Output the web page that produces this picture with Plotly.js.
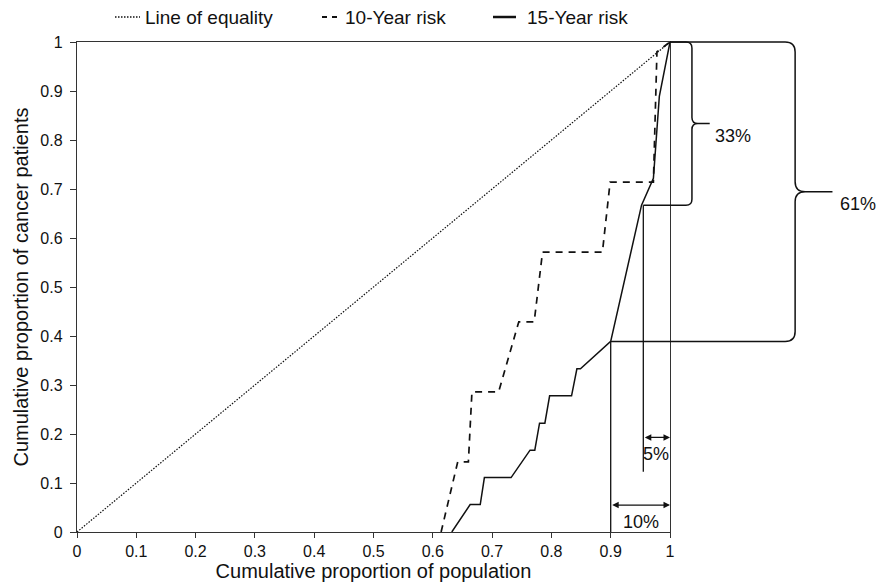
<!DOCTYPE html>
<html>
<head>
<meta charset="utf-8">
<script src="https://cdn.plot.ly/plotly-3.0.1.min.js"></script>
<style>html,body{margin:0;padding:0;background:#fff;}#chart{width:877px;height:588px;}</style>
</head>
<body>
<div id="chart"></div>
<script>
// ---- data ----
var equalityX = [0, 1];
var equalityY = [0, 1];

var risk10X = [0.614, 0.642, 0.660, 0.666, 0.711, 0.745, 0.771, 0.785, 0.886, 0.899, 0.972, 0.978, 1.0];
var risk10Y = [0, 0.143, 0.143, 0.286, 0.286, 0.429, 0.429, 0.571, 0.571, 0.714, 0.714, 0.980, 1.0];

var risk15X = [0.632, 0.663, 0.680, 0.687, 0.732, 0.764, 0.772, 0.780, 0.789, 0.797, 0.834, 0.843, 0.849, 0.900, 0.952, 0.972, 0.982, 1.0];
var risk15Y = [0, 0.056, 0.056, 0.111, 0.111, 0.167, 0.167, 0.222, 0.222, 0.278, 0.278, 0.333, 0.333, 0.389, 0.667, 0.722, 0.889, 1.0];

var seriesNames = ['Line of equality', '10-Year risk', '15-Year risk'];
var tickVals = [0, 0.1, 0.2, 0.3, 0.4, 0.5, 0.6, 0.7, 0.8, 0.9, 1];
var tickText = ['0', '0.1', '0.2', '0.3', '0.4', '0.5', '0.6', '0.7', '0.8', '0.9', '1'];

// highlighted quantities
var pop10Start = 0.9, pop5Start = 0.955, popEnd = 1.0;
var share61Low = 0.389, share33Low = 0.667, shareTop = 1.0;
var labels = {p10: '10%', p5: '5%', s33: '33%', s61: '61%'};

var FONT = 'Liberation Sans, Arial, Helvetica, sans-serif';
var INK = '#111';

var traces = [
  {x: equalityX, y: equalityY, mode: 'lines', name: seriesNames[0], showlegend: false,
   line: {color: INK, width: 1.2, dash: '1.5px,1.5px'}},
  {x: risk10X, y: risk10Y, mode: 'lines', name: seriesNames[1], showlegend: false,
   line: {color: INK, width: 1.7, dash: '7px,6px'}},
  {x: risk15X, y: risk15Y, mode: 'lines', name: seriesNames[2], showlegend: false,
   line: {color: INK, width: 1.5}}
];

// curly brace path in paper coords (x/y domains = [0,1] = data ranges)
function brace(xTopStart, yTop, xBotStart, yBot, xb, xTip, r) {
  var rx = r / 593, ry = r / 490;
  var ym = (yTop + yBot) / 2;
  var p = '';
  p += 'M' + xTopStart + ',' + yTop + ' L' + (xb - rx) + ',' + yTop;
  p += ' Q' + xb + ',' + yTop + ' ' + xb + ',' + (yTop - ry);
  p += ' L' + xb + ',' + (ym + ry);
  p += ' Q' + xb + ',' + ym + ' ' + (xb + rx) + ',' + ym;
  p += ' L' + xTip + ',' + ym;
  p += ' M' + (xb + rx) + ',' + ym;
  p += ' Q' + xb + ',' + ym + ' ' + xb + ',' + (ym - ry);
  p += ' L' + xb + ',' + (yBot + ry);
  p += ' Q' + xb + ',' + yBot + ' ' + (xb - rx) + ',' + yBot;
  p += ' L' + xBotStart + ',' + yBot;
  return p;
}

var shapes = [
  // vertical markers
  {type: 'line', xref: 'x', yref: 'y', x0: pop10Start, x1: pop10Start, y0: 0, y1: share61Low,
   line: {color: INK, width: 1.3}},
  {type: 'line', xref: 'x', yref: 'y', x0: pop5Start, x1: pop5Start, y0: 0.123, y1: share33Low,
   line: {color: INK, width: 1.3}},
  // braces
  {type: 'path', xref: 'paper', yref: 'paper', path: brace(popEnd, shareTop, pop5Start, share33Low, 1.037, 1.067, 6),
   line: {color: INK, width: 1.5}},
  {type: 'path', xref: 'paper', yref: 'paper', path: brace(popEnd, shareTop, pop10Start, share61Low, 1.211, 1.274, 10),
   line: {color: INK, width: 1.5}},
  // manual legend samples
  {type: 'line', xref: 'paper', yref: 'paper', x0: (115 - 77) / 593, x1: (140 - 77) / 593, y0: 1.051, y1: 1.051,
   line: {color: INK, width: 1.3, dash: '1.5px,1.5px'}},
  {type: 'line', xref: 'paper', yref: 'paper', x0: (322 - 77) / 593, x1: (337 - 77) / 593, y0: 1.051, y1: 1.051,
   line: {color: INK, width: 2, dash: '5px,5px'}},
  {type: 'line', xref: 'paper', yref: 'paper', x0: (493 - 77) / 593, x1: (516 - 77) / 593, y0: 1.051, y1: 1.051,
   line: {color: INK, width: 2.5}}
];

var legFont = {family: FONT, size: 19, color: INK};
var annFont = {family: FONT, size: 18, color: INK};
var annotations = [
  // legend texts
  {xref: 'paper', yref: 'paper', x: (143 - 77) / 593, y: 1.051, xanchor: 'left', yanchor: 'middle',
   text: seriesNames[0], showarrow: false, font: legFont},
  {xref: 'paper', yref: 'paper', x: (343 - 77) / 593, y: 1.051, xanchor: 'left', yanchor: 'middle',
   text: seriesNames[1], showarrow: false, font: legFont},
  {xref: 'paper', yref: 'paper', x: (525 - 77) / 593, y: 1.051, xanchor: 'left', yanchor: 'middle',
   text: seriesNames[2], showarrow: false, font: legFont},
  // double arrows
  {xref: 'x', yref: 'y', axref: 'x', ayref: 'y', x: popEnd, y: 0.055, ax: pop10Start, ay: 0.055,
   text: '', showarrow: true, arrowhead: 2, startarrowhead: 2, arrowside: 'end+start',
   arrowsize: 1, startarrowsize: 1, arrowwidth: 1.3, arrowcolor: INK, standoff: 0, startstandoff: 0},
  {xref: 'x', yref: 'y', axref: 'x', ayref: 'y', x: popEnd, y: 0.193, ax: pop5Start, ay: 0.193,
   text: '', showarrow: true, arrowhead: 2, startarrowhead: 2, arrowside: 'end+start',
   arrowsize: 1, startarrowsize: 1, arrowwidth: 1.3, arrowcolor: INK, standoff: 0, startstandoff: 0},
  {xref: 'x', yref: 'y', x: 0.951, y: 0.021, text: labels.p10, showarrow: false, font: annFont},
  {xref: 'x', yref: 'y', x: 0.977, y: 0.159, text: labels.p5, showarrow: false, font: annFont},
  {xref: 'paper', yref: 'paper', x: 1.073, y: (shareTop + share33Low) / 2, xanchor: 'left',
   text: labels.s33, showarrow: false, font: annFont},
  {xref: 'paper', yref: 'paper', x: 1.284, y: (shareTop + share61Low) / 2, xanchor: 'left',
   text: labels.s61, showarrow: false, font: annFont}
];

var axisCommon = {
  range: [0, 1], tickvals: tickVals, ticktext: tickText, ticks: 'outside', ticklen: 5,
  tickcolor: '#333', tickwidth: 1, showline: true, linecolor: '#333', linewidth: 1.2, mirror: true,
  showgrid: false, zeroline: false, fixedrange: true,
  tickfont: {family: FONT, size: 16, color: INK}
};

var layout = {
  width: 877, height: 588,
  margin: {l: 77, r: 207, t: 42, b: 56, pad: 0},
  paper_bgcolor: '#fff', plot_bgcolor: '#fff',
  showlegend: false,
  xaxis: Object.assign({}, axisCommon, {
    title: {text: 'Cumulative proportion of population', font: {family: FONT, size: 20, color: INK}, standoff: 3}
  }),
  yaxis: Object.assign({}, axisCommon, {
    ticklen: 6, ticklabelstandoff: 4,
    title: {text: 'Cumulative proportion of cancer patients', font: {family: FONT, size: 20, color: INK}, standoff: 6}
  }),
  shapes: shapes,
  annotations: annotations
};

Plotly.newPlot('chart', traces, layout, {staticPlot: true, displayModeBar: false});
</script>
</body>
</html>
